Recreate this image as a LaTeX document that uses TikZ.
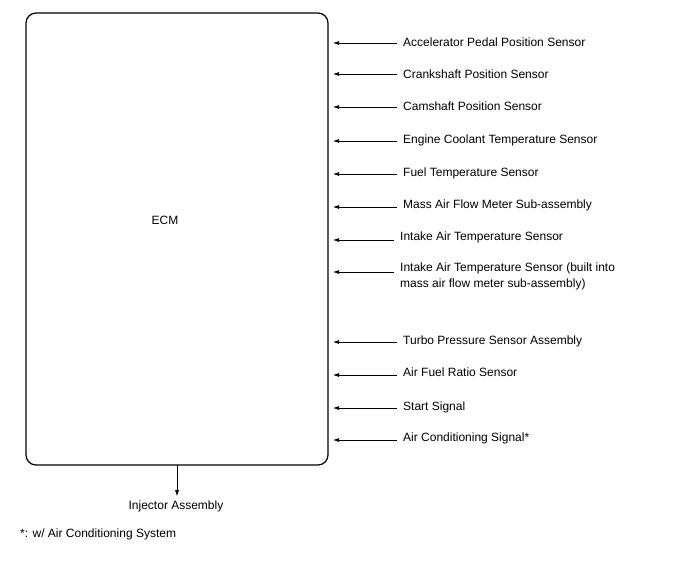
\documentclass[tikz,border=0pt]{standalone}
\usepackage{fontspec}
\setmainfont{Liberation Sans}
\usetikzlibrary{arrows.meta}
\tikzset{
  lbl/.style={anchor=west, inner sep=0pt, font=\fontsize{12}{16}\selectfont},
  sig/.style={-{Latex[length=6pt,width=4pt]}, line width=0.7pt, shorten <=6pt, shorten >=5pt}
}
\begin{document}
\begin{tikzpicture}[x=1pt, y=-1pt]
%		\draw[help lines] (0,0) grid (688,560);
\useasboundingbox (0,0) rectangle (688,560);
\draw[line width=1.2pt, rounded corners=10pt] (26,13) rectangle (328,465);
\coordinate (ecm) at (328,13);
\coordinate (ecmbot) at (177,465);
\node[lbl, anchor=center] (ecmlbl) at (165,220) {ECM};
\node[lbl] (s1) at (403,42) {Accelerator Pedal Position Sensor};
\node[lbl] (s2) at (403,74) {Crankshaft Position Sensor};
\node[lbl] (s3) at (403,106) {Camshaft Position Sensor};
\node[lbl] (s4) at (403,140) {Engine Coolant Temperature Sensor};
\node[lbl] (s5) at (403,173) {Fuel Temperature Sensor};
\node[lbl] (s6) at (403,205) {Mass Air Flow Meter Sub-assembly};
\node[lbl] (s7) at (400,237) {Intake Air Temperature Sensor};
\node[lbl, align=left, anchor=north west] (s8) at (400,263) {Intake Air Temperature Sensor (built into\\mass air flow meter sub-assembly)};
\node[lbl] (s9) at (403,341) {Turbo Pressure Sensor Assembly};
\node[lbl] (s10) at (403,372) {Air Fuel Ratio Sensor};
\node[lbl] (s11) at (403,407) {Start Signal};
\node[lbl] (s12) at (403,438) {Air Conditioning Signal*};
\draw[sig] ([yshift=-1pt]s1.west) -- ([yshift=-1pt]s1.west -| ecm);
\draw[sig] (s2.west) -- (s2.west -| ecm);
\draw[sig] ([yshift=-1pt]s3.west) -- ([yshift=-1pt]s3.west -| ecm);
\draw[sig] ([yshift=-1pt]s4.west) -- ([yshift=-1pt]s4.west -| ecm);
\draw[sig] ([yshift=-1pt]s5.west) -- ([yshift=-1pt]s5.west -| ecm);
\draw[sig] ([yshift=-2pt]s6.west) -- ([yshift=-2pt]s6.west -| ecm);
\draw[sig] ([yshift=-3pt]s7.west) -- ([yshift=-3pt]s7.west -| ecm);
\draw[sig] ([yshift=-9pt]s8.north west) -- ([yshift=-9pt]s8.north west -| ecm);
\draw[sig] ([yshift=-1pt]s9.west) -- ([yshift=-1pt]s9.west -| ecm);
\draw[sig] ([yshift=-3pt]s10.west) -- ([yshift=-3pt]s10.west -| ecm);
\draw[sig] ([yshift=-1pt]s11.west) -- ([yshift=-1pt]s11.west -| ecm);
\draw[sig] ([yshift=-2pt]s12.west) -- ([yshift=-2pt]s12.west -| ecm);
\node[lbl, anchor=center] (inj) at (176,506) {Injector Assembly};
\draw[sig, shorten <=0pt, shorten >=4pt] (ecmbot) -- (ecmbot |- inj.north);
\node[lbl] (note) at (20,534) {*: w/ Air Conditioning System};
\end{tikzpicture}
\end{document}
